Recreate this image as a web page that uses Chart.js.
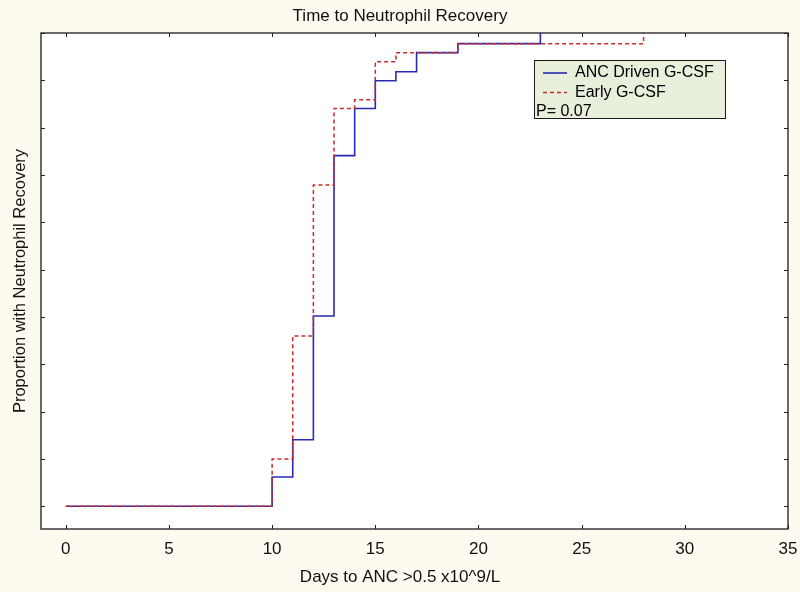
<!DOCTYPE html>
<html>
<head>
<meta charset="utf-8">
<script src="https://cdn.jsdelivr.net/npm/chart.js@4.4.1/dist/chart.umd.min.js"></script>
<style>
  html, body { margin: 0; padding: 0; background: #fdfaf0; }
  #wrap { width: 800px; height: 592px; }
</style>
</head>
<body>
<div id="wrap"><canvas id="kmChart" width="800" height="592"></canvas></div>
<script>
// Kaplan-Meier steps (day at which the step happens, new proportion)
const ancDays = [0, 10, 11, 12, 13, 14, 15, 16, 17, 19, 23];
const ancProportion = [0, 0.062, 0.1405, 0.402, 0.741, 0.8405, 0.899, 0.918, 0.9585, 0.9775, 1.0];
const earlyDays = [0, 10, 11, 12, 13, 14, 15, 16, 19, 28];
const earlyProportion = [0, 0.1, 0.36, 0.679, 0.8405, 0.859, 0.9395, 0.9585, 0.9775, 1.0];

const seriesNames = ['ANC Driven G-CSF', 'Early G-CSF'];
const pValueText = 'P= 0.07';

const xTicks = [0, 5, 10, 15, 20, 25, 30, 35];
const yTicks = [0, 0.1, 0.2, 0.3, 0.4, 0.5, 0.6, 0.7, 0.8, 0.9, 1.0];

const narrowFont = '"Liberation Sans Narrow", "Arial Narrow", "Liberation Sans", Arial, sans-serif';
const legendFont = '"Liberation Sans", Arial, sans-serif';
const blue = '#2a2aae';
const red = '#cc2a2a';

function toPoints(days, values) {
    return days.map((d, i) => ({ x: d, y: values[i] }));
}

// white plot area, frame with inward ticks, legend box
const framePlugin = {
    id: 'frame',
    beforeDraw(chart) {
        const ctx = chart.ctx;
        const a = chart.chartArea;
        ctx.save();
        ctx.fillStyle = '#fdfaf0';
        ctx.fillRect(0, 0, chart.width, chart.height);
        ctx.fillStyle = '#ffffff';
        ctx.fillRect(a.left, a.top, a.right - a.left, a.bottom - a.top);
        ctx.restore();
    },
    afterDatasetsDraw(chart) {
        const ctx = chart.ctx;
        const a = chart.chartArea;
        const xs = chart.scales.x;
        const ys = chart.scales.y;
        ctx.save();
        ctx.strokeStyle = '#3a3a3a';
        ctx.lineWidth = 1.5;
        ctx.strokeRect(a.left, a.top, a.right - a.left, a.bottom - a.top);

        ctx.lineWidth = 1;
        ctx.strokeStyle = '#222';
        const len = 4;
        ctx.beginPath();
        xTicks.forEach(v => {
            const px = Math.round(xs.getPixelForValue(v)) + 0.5;
            ctx.moveTo(px, a.bottom);
            ctx.lineTo(px, a.bottom - len);
            ctx.moveTo(px, a.top);
            ctx.lineTo(px, a.top + len);
        });
        yTicks.forEach(v => {
            const py = Math.round(ys.getPixelForValue(v)) + 0.5;
            ctx.moveTo(a.left, py);
            ctx.lineTo(a.left + len, py);
            ctx.moveTo(a.right, py);
            ctx.lineTo(a.right - len, py);
        });
        ctx.stroke();

        // legend
        const bx = a.right - 254, by = a.top + 27, bw = 191, bh = 58;
        ctx.fillStyle = '#e8efdb';
        ctx.fillRect(bx, by, bw, bh);
        ctx.strokeStyle = '#1a1a1a';
        ctx.lineWidth = 1;
        ctx.strokeRect(bx + 0.5, by + 0.5, bw, bh);

        ctx.font = '16px ' + legendFont;
        ctx.textBaseline = 'middle';
        ctx.fillStyle = '#000';
        chart.data.datasets.forEach((ds, i) => {
            const ry = by + 13 + i * 19.5;
            ctx.beginPath();
            ctx.strokeStyle = ds.borderColor;
            ctx.lineWidth = ds.borderWidth;
            ctx.setLineDash(ds.borderDash || []);
            ctx.moveTo(bx + 9, ry);
            ctx.lineTo(bx + 33, ry);
            ctx.stroke();
            ctx.setLineDash([]);
            ctx.fillText(ds.label, bx + 41, ry);
        });
        ctx.fillText(pValueText, bx + 2, by + 52);
        ctx.restore();
    }
};

const ctx = document.getElementById('kmChart').getContext('2d');
new Chart(ctx, {
    type: 'line',
    data: {
        datasets: [
            {
                label: seriesNames[0],
                data: toPoints(ancDays, ancProportion),
                borderColor: blue,
                borderWidth: 1.6,
                stepped: 'before',
                pointRadius: 0,
                fill: false,
                order: 1
            },
            {
                label: seriesNames[1],
                data: toPoints(earlyDays, earlyProportion),
                borderColor: red,
                borderWidth: 1.5,
                borderDash: [4, 3],
                stepped: 'before',
                pointRadius: 0,
                fill: false,
                order: 0
            }
        ]
    },
    options: {
        responsive: false,
        animation: false,
        devicePixelRatio: 1,
        layout: { padding: 0 },
        plugins: {
            legend: { display: false },
            tooltip: { enabled: false },
            title: {
                display: true,
                text: 'Time to Neutrophil Recovery',
                color: '#111',
                font: { family: narrowFont, size: 17, weight: 'normal', lineHeight: 1.2 },
                padding: { top: 6, bottom: 6.6 }
            },
            subtitle: {
                display: true,
                position: 'bottom',
                text: 'Days to ANC >0.5 x10^9/L',
                color: '#111',
                font: { family: narrowFont, size: 17, weight: 'normal', lineHeight: 1.2 },
                padding: { top: 9.8, bottom: 4.8 }
            }
        },
        scales: {
            x: {
                type: 'linear',
                min: -1.2,
                max: 35,
                afterBuildTicks: s => { s.ticks = xTicks.map(v => ({ value: v })); },
                ticks: {
                    color: '#111',
                    padding: 10,
                    maxRotation: 0,
                    font: { family: narrowFont, size: 17 }
                },
                grid: { display: false, drawTicks: false },
                border: { display: false },
                afterFit: s => { s.height = 28; s.paddingLeft = 0; s.paddingRight = 0; }
            },
            y: {
                type: 'linear',
                min: -0.048,
                max: 1.0,
                ticks: { display: false },
                grid: { display: false, drawTicks: false },
                border: { display: false },
                title: {
                    display: true,
                    text: 'Proportion with Neutrophil Recovery',
                    color: '#111',
                    font: { family: narrowFont, size: 16.5, lineHeight: 1.2 },
                    padding: { top: 11, bottom: 0 }
                },
                afterFit: s => { s.width = 41; }
            },
            y2: {
                type: 'linear',
                position: 'right',
                ticks: { display: false },
                grid: { display: false, drawTicks: false },
                border: { display: false },
                afterFit: s => { s.width = 12; }
            }
        }
    },
    plugins: [framePlugin]
});
</script>
</body>
</html>
